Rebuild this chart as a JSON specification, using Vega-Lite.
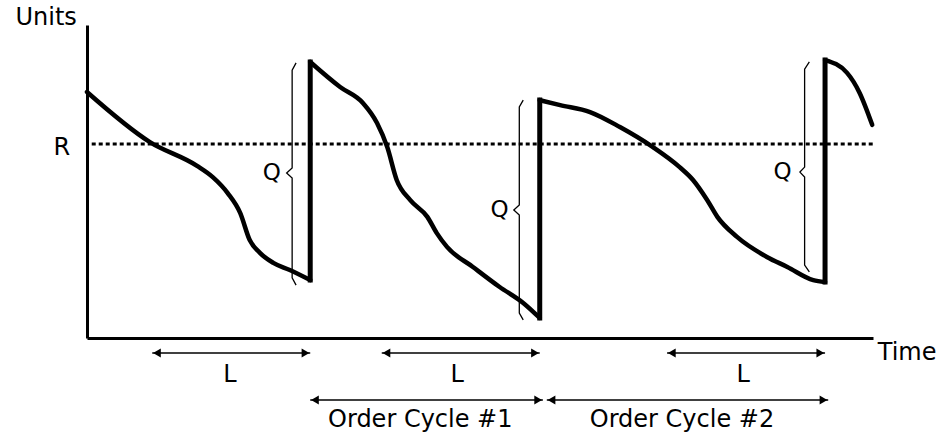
{
  "$schema": "https://vega.github.io/schema/vega-lite/v6.json",
  "autosize": {"type": "none"},
  "padding": {"left": 87, "top": 25, "right": 73, "bottom": 100},
  "width": 786,
  "height": 313,
  "background": "white",
  "config": {
    "view": {"stroke": null},
    "axis": {"domainColor": "black", "domainWidth": 3, "ticks": false, "labels": false, "grid": false, "title": null},
    "text": {"font": "DejaVu Sans", "fontSize": 24, "color": "black"}
  },
  "datasets": {
    "inventory": [
      {"seg": "A", "t": 0, "u": 78.6}, {"seg": "A", "t": 8.0, "u": 62.6}, {"seg": "A", "t": 14.0, "u": 55.0},
      {"seg": "A", "t": 16.0, "u": 51.4}, {"seg": "A", "t": 17.9, "u": 46.3}, {"seg": "A", "t": 19.5, "u": 39.9},
      {"seg": "A", "t": 20.7, "u": 31.3}, {"seg": "A", "t": 22.0, "u": 27.2}, {"seg": "A", "t": 23.7, "u": 24.0},
      {"seg": "A", "t": 25.8, "u": 21.7}, {"seg": "A", "t": 28.4, "u": 18.5},
      {"seg": "B", "t": 28.4, "u": 88.2}, {"seg": "B", "t": 32.2, "u": 80.2}, {"seg": "B", "t": 35.1, "u": 75.1},
      {"seg": "B", "t": 36.9, "u": 68.7}, {"seg": "B", "t": 38.2, "u": 61.0}, {"seg": "B", "t": 39.4, "u": 50.5},
      {"seg": "B", "t": 41.1, "u": 44.1}, {"seg": "B", "t": 43.3, "u": 38.7}, {"seg": "B", "t": 44.5, "u": 33.5},
      {"seg": "B", "t": 45.8, "u": 29.1}, {"seg": "B", "t": 49.1, "u": 22.7}, {"seg": "B", "t": 52.5, "u": 16.3},
      {"seg": "B", "t": 55.5, "u": 11.2}, {"seg": "B", "t": 57.6, "u": 6.4},
      {"seg": "C", "t": 57.6, "u": 76.0}, {"seg": "C", "t": 60.2, "u": 74.4}, {"seg": "C", "t": 64.0, "u": 72.2},
      {"seg": "C", "t": 67.8, "u": 67.4}, {"seg": "C", "t": 72.0, "u": 61.0}, {"seg": "C", "t": 75.4, "u": 54.6},
      {"seg": "C", "t": 77.1, "u": 50.5}, {"seg": "C", "t": 78.9, "u": 44.1}, {"seg": "C", "t": 80.2, "u": 38.7},
      {"seg": "C", "t": 82.7, "u": 32.3}, {"seg": "C", "t": 86.5, "u": 25.9}, {"seg": "C", "t": 89.1, "u": 22.7},
      {"seg": "C", "t": 92.4, "u": 18.5}, {"seg": "C", "t": 93.9, "u": 17.9},
      {"seg": "D", "t": 93.9, "u": 88.8}, {"seg": "D", "t": 96.7, "u": 84.7}, {"seg": "D", "t": 98.3, "u": 78.3},
      {"seg": "D", "t": 99.9, "u": 68.1}
    ],
    "jumps": [
      {"t": 28.4, "u1": 18.5, "u2": 88.2},
      {"t": 57.6, "u1": 6.4, "u2": 76.0},
      {"t": 93.9, "u1": 17.9, "u2": 88.8}
    ],
    "braces": [
      {"b": 1, "o": 1, "t": 26.6, "u": 87.9}, {"b": 1, "o": 2, "t": 26.1, "u": 85.6}, {"b": 1, "o": 3, "t": 26.1, "u": 54.3},
      {"b": 1, "o": 4, "t": 25.4, "u": 52.7}, {"b": 1, "o": 5, "t": 26.1, "u": 51.1}, {"b": 1, "o": 6, "t": 26.1, "u": 19.2},
      {"b": 1, "o": 7, "t": 26.6, "u": 16.9},
      {"b": 2, "o": 1, "t": 55.5, "u": 76.0}, {"b": 2, "o": 2, "t": 55.0, "u": 73.8}, {"b": 2, "o": 3, "t": 55.0, "u": 42.5},
      {"b": 2, "o": 4, "t": 54.3, "u": 40.9}, {"b": 2, "o": 5, "t": 55.0, "u": 39.3}, {"b": 2, "o": 6, "t": 55.0, "u": 8.0},
      {"b": 2, "o": 7, "t": 55.5, "u": 5.8},
      {"b": 3, "o": 1, "t": 91.9, "u": 88.2}, {"b": 3, "o": 2, "t": 91.3, "u": 85.9}, {"b": 3, "o": 3, "t": 91.3, "u": 54.6},
      {"b": 3, "o": 4, "t": 90.7, "u": 53.0}, {"b": 3, "o": 5, "t": 91.3, "u": 51.4}, {"b": 3, "o": 6, "t": 91.3, "u": 23.3},
      {"b": 3, "o": 7, "t": 91.9, "u": 21.1}
    ],
    "spans": [
      {"t1": 8.3, "t2": 28.4, "u": -4.8},
      {"t1": 37.5, "t2": 57.6, "u": -4.8},
      {"t1": 73.8, "t2": 93.9, "u": -4.8},
      {"t1": 28.4, "t2": 58.0, "u": -19.8},
      {"t1": 58.5, "t2": 94.3, "u": -19.8}
    ],
    "heads": [
      {"t": 8.9, "u": -4.8, "dir": "left"}, {"t": 27.8, "u": -4.8, "dir": "right"},
      {"t": 38.1, "u": -4.8, "dir": "left"}, {"t": 57.0, "u": -4.8, "dir": "right"},
      {"t": 74.4, "u": -4.8, "dir": "left"}, {"t": 93.3, "u": -4.8, "dir": "right"},
      {"t": 29.0, "u": -19.8, "dir": "left"}, {"t": 57.4, "u": -19.8, "dir": "right"},
      {"t": 59.1, "u": -19.8, "dir": "left"}, {"t": 93.7, "u": -19.8, "dir": "right"}
    ],
    "labels": [
      {"t": -5.2, "u": 102.2, "label": "Units"},
      {"t": -3.2, "u": 60.7, "label": "R"},
      {"t": 18.2, "u": -11.8, "label": "L"},
      {"t": 47.1, "u": -11.8, "label": "L"},
      {"t": 83.5, "u": -11.8, "label": "L"},
      {"t": 42.4, "u": -26.2, "label": "Order Cycle #1"},
      {"t": 75.7, "u": -26.2, "label": "Order Cycle #2"}
    ],
    "qlabels": [
      {"t": 23.5, "u": 52.7, "label": "Q"},
      {"t": 52.5, "u": 40.9, "label": "Q"},
      {"t": 88.5, "u": 53.0, "label": "Q"}
    ],
    "timelabel": [
      {"t": 100.6, "u": -4.8, "label": "Time"}
    ],
    "reorder": [
      {"t1": 0.6, "t2": 100, "u": 62.0}
    ]
  },
  "layer": [
    {
      "data": {"name": "reorder"},
      "mark": {"type": "rule", "color": "black", "strokeWidth": 3, "strokeDash": [4, 3]},
      "encoding": {
        "x": {"field": "t1", "type": "quantitative", "scale": {"domain": [0, 100], "nice": false, "zero": false}, "axis": {"orient": "bottom"}},
        "x2": {"field": "t2"},
        "y": {"field": "u", "type": "quantitative", "scale": {"domain": [0, 100], "nice": false, "zero": false}, "axis": {"orient": "left"}}
      }
    },
    {
      "data": {"name": "inventory"},
      "mark": {"type": "line", "color": "black", "strokeWidth": 4.5, "interpolate": "monotone", "strokeCap": "round"},
      "encoding": {
        "x": {"field": "t", "type": "quantitative"},
        "y": {"field": "u", "type": "quantitative"},
        "detail": {"field": "seg", "type": "nominal"}
      }
    },
    {
      "data": {"name": "jumps"},
      "mark": {"type": "rule", "color": "black", "strokeWidth": 5, "strokeCap": "square"},
      "encoding": {
        "x": {"field": "t", "type": "quantitative"},
        "y": {"field": "u1", "type": "quantitative"},
        "y2": {"field": "u2"}
      }
    },
    {
      "data": {"name": "braces"},
      "mark": {"type": "line", "color": "black", "strokeWidth": 1.3},
      "encoding": {
        "x": {"field": "t", "type": "quantitative"},
        "y": {"field": "u", "type": "quantitative"},
        "detail": {"field": "b", "type": "nominal"},
        "order": {"field": "o", "type": "quantitative"}
      }
    },
    {
      "data": {"name": "spans"},
      "mark": {"type": "rule", "color": "black", "strokeWidth": 1.5},
      "encoding": {
        "x": {"field": "t1", "type": "quantitative"},
        "x2": {"field": "t2"},
        "y": {"field": "u", "type": "quantitative"}
      }
    },
    {
      "data": {"name": "heads"},
      "mark": {"type": "point", "filled": true, "color": "black", "opacity": 1, "size": 80},
      "encoding": {
        "x": {"field": "t", "type": "quantitative"},
        "y": {"field": "u", "type": "quantitative"},
        "shape": {"field": "dir", "type": "nominal", "scale": {"domain": ["left", "right"], "range": ["triangle-left", "triangle-right"]}, "legend": null}
      }
    },
    {
      "data": {"name": "labels"},
      "mark": {"type": "text", "align": "center", "baseline": "middle"},
      "encoding": {
        "x": {"field": "t", "type": "quantitative"},
        "y": {"field": "u", "type": "quantitative"},
        "text": {"field": "label"}
      }
    },
    {
      "data": {"name": "qlabels"},
      "mark": {"type": "text", "align": "center", "baseline": "middle", "fontSize": 23},
      "encoding": {
        "x": {"field": "t", "type": "quantitative"},
        "y": {"field": "u", "type": "quantitative"},
        "text": {"field": "label"}
      }
    },
    {
      "data": {"name": "timelabel"},
      "mark": {"type": "text", "align": "left", "baseline": "middle"},
      "encoding": {
        "x": {"field": "t", "type": "quantitative"},
        "y": {"field": "u", "type": "quantitative"},
        "text": {"field": "label"}
      }
    }
  ]
}
